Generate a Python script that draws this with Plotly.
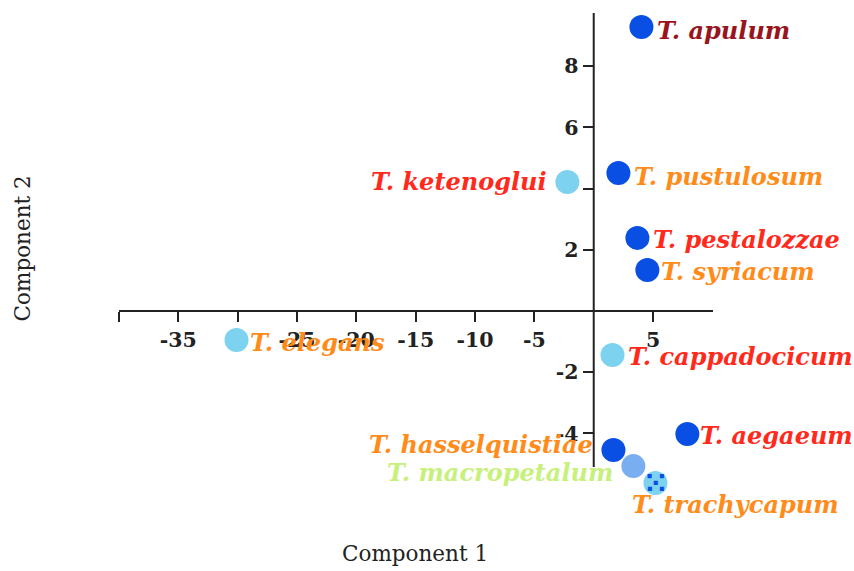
import plotly.graph_objects as go

# ---- data ----
species = ["T. apulum", "T. pustulosum", "T. ketenoglui", "T. pestalozzae", "T. syriacum",
           "T. elegans", "T. cappadocicum", "T. aegaeum", "T. hasselquistiae",
           "T. macropetalum", "T. trachycapum"]
comp1 = [4.02, 2.08, -2.22, 3.68, 4.52, -30.1, 1.58, 7.89, 1.66, 3.34, 5.2]
comp2 = [9.28, 4.51, 4.22, 2.39, 1.34, -0.95, -1.44, -4.02, -4.54, -5.07, -5.62]

x_tick_vals = [-40, -35, -30, -25, -20, -15, -10, -5, 5]
x_tick_text = ["", "-35", "", "-25", "-20", "-15", "-10", "-5", "5"]
y_tick_vals = [-4, -2, 2, 4, 6, 8]
y_tick_text = ["-4", "-2", "2", "", "6", "8"]

# ---- styles ----
DARK = "#0a4fe4"
LIGHT = "#7dd2f0"
MID = "#79aef0"
RED = "#ff2a1c"
ORANGE = "#ff8c1a"
DARKRED = "#98151c"
GREEN = "#c8f07c"

marker_colors = [DARK, DARK, LIGHT, DARK, DARK, LIGHT, LIGHT, DARK, DARK, MID, LIGHT]
label_colors = [DARKRED, ORANGE, RED, RED, ORANGE, ORANGE, RED, RED, ORANGE, GREEN, ORANGE]
# (xanchor, xshift px, yshift px)
label_place = [("left", 14, -3), ("left", 14, -3), ("right", -18, 0), ("left", 14, -2),
               ("left", 12, -1), ("left", 12, -2), ("left", 14, -1), ("left", 11, -1),
               ("right", -18, 5), ("right", -18, -6), ("left", -25, -22)]

X_RANGE = [-40, 10.05]
Y_RANGE = [-6.21, 9.74]
Y_AXIS_BOTTOM = -5.1
AXIS_COLOR = "#222222"

fig = go.Figure()
fig.add_trace(go.Scatter(
    x=comp1, y=comp2, mode="markers",
    marker=dict(size=24, color=marker_colors, line=dict(width=0)),
    cliponaxis=False, showlegend=False, hoverinfo="text", text=species))

annotations = []
for name, xv, yv, col, (anc, xs, ys) in zip(species, comp1, comp2, label_colors, label_place):
    annotations.append(dict(
        x=xv, y=yv, xref="x", yref="y", text=name, showarrow=False,
        xanchor=anc, yanchor="middle", xshift=xs, yshift=ys,
        font=dict(family="DejaVu Serif", size=24, color=col, weight="bold", style="italic")))

# dotted pattern on T. trachycapum
i_tr = species.index("T. trachycapum")
annotations.append(dict(
    x=comp1[i_tr], y=comp2[i_tr], xref="x", yref="y", text="\u2059", showarrow=False,
    xanchor="center", yanchor="middle", xshift=0, yshift=-1,
    font=dict(family="DejaVu Sans", size=28, color=DARK, weight="bold")))

annotations.append(dict(
    text="Component 1", x=0.498, y=-0.107, xref="paper", yref="paper",
    xanchor="center", yanchor="middle", showarrow=False,
    font=dict(family="DejaVu Serif", size=21.5, color=AXIS_COLOR)))
annotations.append(dict(
    text="Component 2", x=-0.163, y=0.518, xref="paper", yref="paper",
    xanchor="center", yanchor="middle", showarrow=False, textangle=-90,
    font=dict(family="DejaVu Serif", size=21.5, color=AXIS_COLOR)))

x_pos = (0 - Y_RANGE[0]) / (Y_RANGE[1] - Y_RANGE[0])
y_pos = (0 - X_RANGE[0]) / (X_RANGE[1] - X_RANGE[0])

tickfont = dict(family="DejaVu Serif", size=20.5, color=AXIS_COLOR, weight="bold")

fig.update_layout(
    width=854, height=571,
    margin=dict(l=119, r=141, t=13, b=70),
    paper_bgcolor="white", plot_bgcolor="white",
    showlegend=False,
    annotations=annotations,
    xaxis=dict(range=X_RANGE, anchor="free", position=x_pos,
               showgrid=False, zeroline=False, showline=True,
               linecolor=AXIS_COLOR, linewidth=2,
               ticks="outside", ticklen=10, tickwidth=2, tickcolor=AXIS_COLOR,
               tickmode="array", tickvals=x_tick_vals, ticktext=x_tick_text,
               tickfont=tickfont),
    yaxis=dict(range=Y_RANGE, anchor="free", position=y_pos,
               showgrid=False, zeroline=False, showline=False,
               ticks="outside", ticklen=11, tickwidth=2, tickcolor=AXIS_COLOR,
               tickmode="array", tickvals=y_tick_vals, ticktext=y_tick_text,
               tickfont=tickfont),
    shapes=[dict(type="line", xref="x", yref="y", x0=0, x1=0,
                 y0=Y_AXIS_BOTTOM, y1=Y_RANGE[1], layer="below",
                 line=dict(color=AXIS_COLOR, width=2))],
)

fig.write_html("out.html", config={"displayModeBar": False},
               post_script="document.body.style.margin='0';")
